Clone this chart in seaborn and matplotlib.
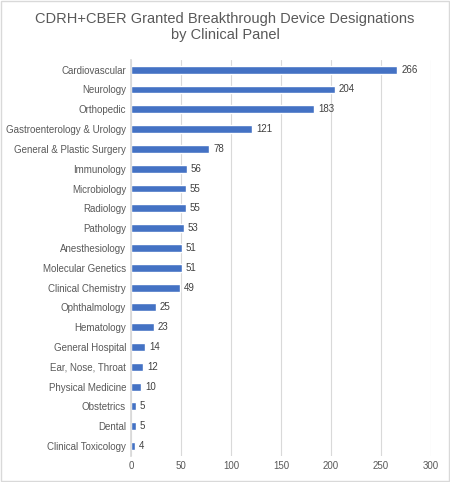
import matplotlib
matplotlib.use("Agg")
import matplotlib.pyplot as plt
import seaborn as sns
import pandas as pd

panels = ["Cardiovascular","Neurology","Orthopedic","Gastroenterology & Urology","General & Plastic Surgery",
          "Immunology","Microbiology","Radiology","Pathology","Anesthesiology","Molecular Genetics",
          "Clinical Chemistry","Ophthalmology","Hematology","General Hospital","Ear, Nose, Throat",
          "Physical Medicine","Obstetrics","Dental","Clinical Toxicology"]
counts = [266,204,183,121,78,56,55,55,53,51,51,49,25,23,14,12,10,5,5,4]
xticks = [0,50,100,150,200,250,300]

sns.set_theme(style="white")
plt.rcParams['font.family'] = ['Liberation Sans', 'DejaVu Sans']
df = pd.DataFrame({"panel": panels, "count": counts})

fig = plt.figure(figsize=(4.5, 4.82), dpi=100)
ax = fig.add_axes([0.291, 0.054, 0.667, 0.822])
sns.barplot(data=df, y="panel", x="count", orient="h", color="#4472C4", width=0.4, ax=ax, saturation=1)
for i, v in enumerate(counts):
    ax.text(v + 4, i, str(v), va="center", ha="left", fontsize=7, color="#404040")
ax.set_xlim(0, 300)
ax.set_xticks(xticks)
ax.set_xlabel(""); ax.set_ylabel("")
ax.grid(axis="x", color="#D9D9D9", linewidth=0.8)
ax.set_axisbelow(True)
for s in ["top", "right", "bottom"]:
    ax.spines[s].set_visible(False)
ax.spines["left"].set_color("#D9D9D9")
ax.tick_params(axis="both", labelsize=7, colors="#595959", length=0)
fig.suptitle("CDRH+CBER Granted Breakthrough Device Designations\nby Clinical Panel",
             y=0.975, fontsize=10.5, color="#595959")
fig.patches.append(plt.Rectangle((0.002, 0.002), 0.996, 0.996, transform=fig.transFigure,
                                 fill=False, edgecolor="#D9D9D9", linewidth=1))
fig.savefig("out.png", dpi=100)
